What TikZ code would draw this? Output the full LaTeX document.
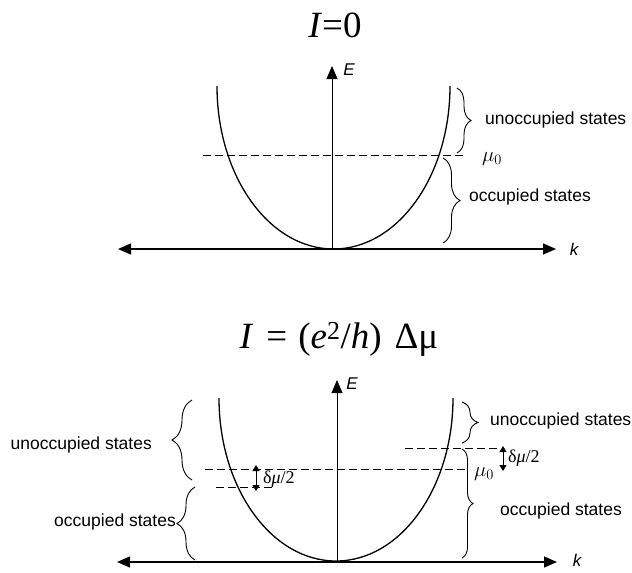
\documentclass[tikz,border=0pt]{standalone}
\usepackage{fontspec}
\setmainfont{Liberation Serif}
\setsansfont{Liberation Sans}
\usetikzlibrary{arrows.meta,decorations.pathreplacing}
\begin{document}
\begin{tikzpicture}[x=1pt,y=-1pt,
  kaxis/.style={line width=1.4pt},
  eaxis/.style={line width=0.9pt},
  bigtip/.style={-{Triangle[length=13pt,width=11pt]}},
  bothtips/.style={{Triangle[length=13pt,width=11pt]}-{Triangle[length=13pt,width=11pt]}},
  smalltips/.style={line width=1pt,{Triangle[length=6pt,width=7pt]}-{Triangle[length=6pt,width=7pt]}},
  band/.style={line width=1.3pt},
  fermi/.style={line width=0.9pt,dash pattern=on 7.5pt off 4.5pt},
  curly/.style={decorate,decoration={brace,amplitude=#1},line width=0.9pt},
  lbl/.style={font=\sffamily\fontsize{17.5}{20}\selectfont,inner sep=0pt},
  axlbl/.style={font=\sffamily\itshape\fontsize{17}{20}\selectfont,inner sep=0pt},
  mathlbl/.style={font=\fontsize{20}{22}\selectfont,inner sep=0pt},
  dlbl/.style={font=\fontsize{18}{20}\selectfont,inner sep=0pt},
  title/.style={font=\fontsize{37}{40}\selectfont,inner sep=0pt}]
\useasboundingbox (0,0) rectangle (632,573);

% ---------- top diagram ----------
\node[title] (t1) at (335,25) {\textit{I}=0};
\coordinate (kL1) at (118,249);
\coordinate (kR1) at (556,249);
\coordinate (Eb1) at (332,249);
\coordinate (Et1) at (332,66);
\draw[kaxis,bothtips] (kL1) -- (kR1);
\draw[eaxis,bigtip] (Eb1) -- (Et1);
\node[axlbl] (E1) at (349,70) {E};
\node[axlbl] (k1) at (574,249) {k};
\draw[band] (217,86) arc[start angle=180,end angle=0,x radius=116.5,y radius=163];
\coordinate (fL1) at (203,155);
\coordinate (fR1) at (463,155);
\draw[fermi] (fL1) -- (fR1);
\node[mathlbl] (mu1) at (492,159) {$\mu_0$};
\coordinate (ua1) at (457,88);
\coordinate (ub1) at (457,153);
\draw[curly=14pt] (ua1) -- (ub1);
\node[lbl,anchor=west] (un1) at (485,120) {unoccupied states};
\coordinate (oa1) at (443,158);
\coordinate (ob1) at (443,243);
\draw[curly=17pt] (oa1) -- (ob1);
\node[lbl,anchor=west] (oc1) at (469,197) {occupied states};

% ---------- bottom diagram ----------
\node[title] (t2) at (339,339) {\textit{I}\hspace{0.1em} = \hspace{0.05em}(\textit{e}\textsuperscript{2}/\textit{h})\hspace{0.1em} Δμ};
\coordinate (kL2) at (117,562);
\coordinate (kR2) at (557,562);
\coordinate (Eb2) at (337,562);
\coordinate (Et2) at (337,380);
\draw[kaxis,bothtips] (kL2) -- (kR2);
\draw[eaxis,bigtip] (Eb2) -- (Et2);
\node[axlbl] (E2) at (352,384) {E};
\node[axlbl] (k2) at (577,560) {k};
\draw[band] (219,398) arc[start angle=180,end angle=0,x radius=117,y radius=163];
\coordinate (mL2) at (205,469);
\coordinate (mR2) at (468,469);
\draw[fermi] (mL2) -- (mR2);
\coordinate (lL2) at (216,487);
\coordinate (lR2) at (272,487);
\draw[fermi] (lL2) -- (lR2);
\coordinate (hL2) at (405,448);
\coordinate (hR2) at (500,448);
\draw[fermi] (hL2) -- (hR2);
\coordinate (da1) at (256,465);
\coordinate (db1) at (256,491);
\draw[smalltips] (da1) -- (db1);
\node[dlbl,anchor=west] (dm1) at (263,479) {δ\textit{μ}/2};
\coordinate (da2) at (503,446);
\coordinate (db2) at (503,471);
\draw[smalltips] (da2) -- (db2);
\node[dlbl,anchor=west] (dm2) at (508,458) {δ\textit{μ}/2};
\node[mathlbl] (mu2) at (484,474) {$\mu_0$};
% left braces
\coordinate (lua) at (192,480);
\coordinate (lub) at (192,400);
\draw[curly=20pt] (lua) -- (lub);
\node[lbl,anchor=east] (un2) at (152,445) {unoccupied states};
\coordinate (loa) at (195,560);
\coordinate (lob) at (195,487);
\draw[curly=18pt] (loa) -- (lob);
\node[lbl,anchor=east] (oc2) at (176,522) {occupied states};
% right braces
\coordinate (rua) at (462,402);
\coordinate (rub) at (462,443);
\draw[curly=16pt] (rua) -- (rub);
\node[lbl,anchor=west] (un3) at (490,421) {unoccupied states};
\coordinate (roa) at (462,449);
\coordinate (rob) at (462,558);
\draw[curly=11pt] (roa) -- (rob);
\node[lbl,anchor=west] (oc3) at (500,511) {occupied states};
\end{tikzpicture}
\end{document}
